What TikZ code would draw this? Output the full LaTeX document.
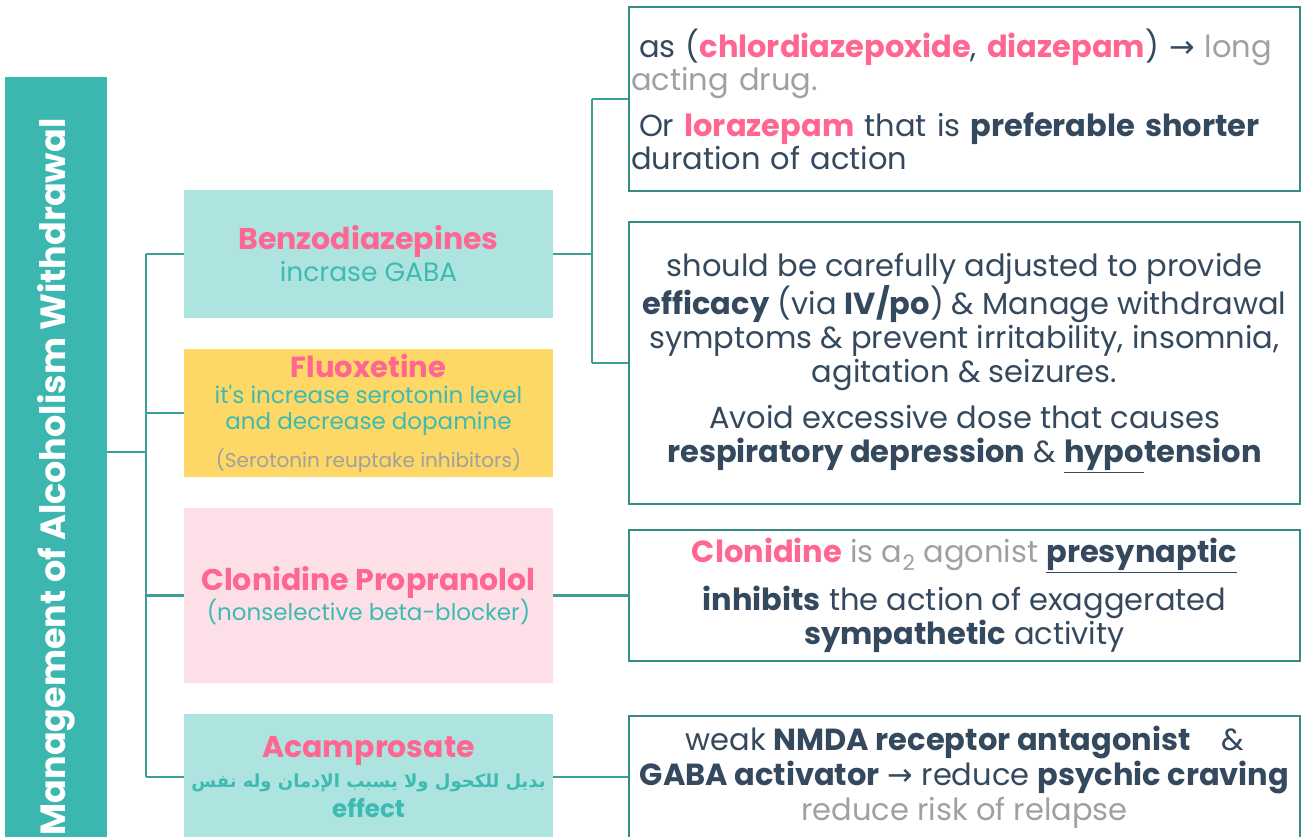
\documentclass[tikz,border=0pt]{standalone}
\usepackage{fontspec}
\setmainfont{Poppins}
\newfontfamily\dejavu{DejaVu Sans}
\newfontfamily\arabicfont[Script=Arabic]{DejaVu Sans}
\TeXXeTstate=1

\definecolor{titleteal}{RGB}{59,183,176}
\definecolor{linkteal}{RGB}{58,158,148}
\definecolor{noteline}{RGB}{52,140,130}
\definecolor{benzofill}{RGB}{173,228,224}
\definecolor{fluoxfill}{RGB}{254,216,102}
\definecolor{clonifill}{RGB}{253,224,231}
\definecolor{drugpink}{RGB}{255,102,145}
\definecolor{tealtext}{RGB}{61,187,178}
\definecolor{darkslate}{RGB}{52,73,94}
\definecolor{softgray}{RGB}{160,160,160}

\newcommand{\fsize}[2]{\fontsize{#1}{#2}\selectfont}
\newcommand{\rarr}{{\dejavu →}}
\newcommand{\pk}[1]{\textcolor{drugpink}{\bfseries #1}}
\newcommand{\gr}[1]{\textcolor{softgray}{#1}}

\begin{document}
\begin{tikzpicture}[
  x=1pt, y=-1pt,
  catbox/.style={rectangle, minimum width=369pt, inner sep=0pt, align=center},
  notebox/.style={draw=noteline, line width=2pt, rectangle, minimum width=671pt,
                  inner sep=0pt, align=center},
  link/.style={draw=linkteal, line width=2.5pt},
  every node/.style={text=darkslate}
]
\clip (0,0) rectangle (1313,837);

% Title bar
\node[fill=titleteal, rotate=90, minimum width=800pt, minimum height=102pt, inner sep=0pt,
      text=white, font=\bfseries\fsize{35}{35}] (title) at (56,477)
      {Management of Alcoholism Withdrawal};

% Drug boxes
\node[catbox, fill=benzofill, minimum height=128pt, font=\fsize{26.5}{32}] (benzo) at (368.5,254)
  {{\fsize{30}{30}\pk{Benzodiazepines}}\\ \textcolor{tealtext}{incrase GABA}};
\node[catbox, fill=fluoxfill, minimum height=128pt, font=\fsize{23}{26}] (fluox) at (368.5,413)
  {{\fsize{29}{29}\pk{Fluoxetine}}\\ \textcolor{tealtext}{it\textquotesingle s increase serotonin level}\\
   \textcolor{tealtext}{and decrease dopamine}\\[12pt] {\fsize{20}{20}\gr{(Serotonin reuptake inhibitors)}}};
\node[catbox, fill=clonifill, minimum height=175pt, font=\fsize{23}{30}] (cloni) at (368.5,595.5)
  {{\fsize{30}{30}\pk{Clonidine Propranolol}}\\ \textcolor{tealtext}{(nonselective beta-blocker)}};
\node[catbox, fill=benzofill, minimum height=126pt, font=\fsize{24.5}{30}] (acamp) at (368.5,777)
  {{\fsize{30}{30}\pk{Acamprosate}}\\
   {\fsize{18}{30}\textcolor{tealtext}{\arabicfont\bfseries\beginR بديل للكحول ولا يسبب الإدمان وله نفس\endR}}\\
   \textcolor{tealtext}{\bfseries effect}};

% Notes
\node[notebox, minimum height=184pt, text width=667pt, align=left, font=\fsize{30.5}{33}] (longact) at (964.5,99)
  {\hspace*{8pt}as (\pk{chlordiazepoxide}, \pk{diazepam}) \rarr{} \gr{long}\\
   \gr{acting drug.}\\[13pt]
   \hspace*{8pt}Or \pk{lorazepam} that is \textbf{preferable shorter}\\
   duration of action};
\node[notebox, minimum height=282pt, font=\fsize{30.5}{34}] (dose) at (964.5,363)
  {should be carefully adjusted to provide\\
   \textbf{efficacy} (via \textbf{IV/po}) \& Manage withdrawal\\
   symptoms \& prevent irritability, insomnia,\\
   agitation \& seizures.\\[12pt]
   Avoid excessive dose that causes\\
   \textbf{respiratory depression} \& \textbf{\underline{hypo}tension}};
\node[notebox, minimum height=131pt, font=\fsize{30.5}{34}] (cloninote) at (964.5,595.5)
  {\pk{Clonidine} \gr{is a\textsubscript{2} agonist} \textbf{\underline{presynaptic}}\\[12pt]
   \textbf{inhibits} the action of exaggerated\\
   \textbf{sympathetic} activity};
\node[notebox, minimum height=122pt, font=\fsize{30.5}{35}] (acampnote) at (964.5,777)
  {weak \textbf{NMDA receptor antagonist}\quad\&\\
   \textbf{GABA activator} \rarr{} reduce \textbf{psychic craving}\\
   \gr{reduce risk of relapse}};

% Connectors
\coordinate (hub) at (146,452);
\coordinate (fork) at (592,0);
\draw[link] (title.south |- hub) -- (hub);
\draw[link] (benzo.west -| hub) -- (acamp.west -| hub);
\foreach \drug in {benzo,fluox,cloni,acamp}
  \draw[link] (\drug.west -| hub) -- (\drug.west);
\draw[link] (benzo.east) -- (benzo.east -| fork);
\draw[link] (longact.west -| fork) -- (dose.west -| fork);
\draw[link] (longact.west -| fork) -- (longact.west);
\draw[link] (dose.west -| fork) -- (dose.west);
\draw[link] (cloni.east) -- (cloninote.west);
\draw[link] (acamp.east) -- (acampnote.west);

\end{tikzpicture}
\end{document}
